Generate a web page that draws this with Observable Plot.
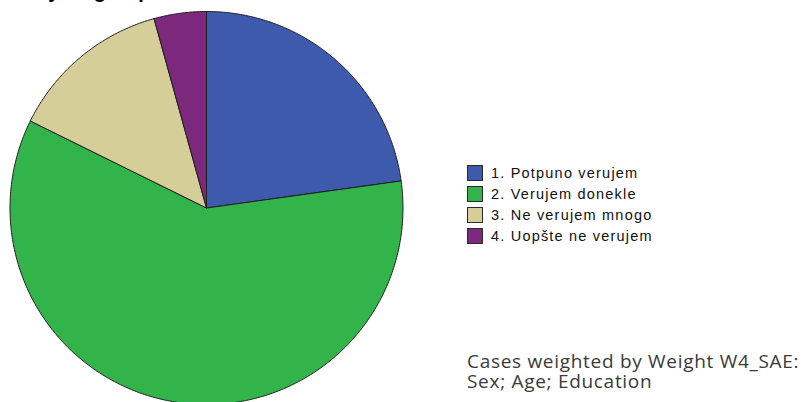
<!DOCTYPE html>
<html>
<head>
<meta charset="utf-8">
<script src="https://cdn.jsdelivr.net/npm/d3@7"></script>
<script src="https://cdn.jsdelivr.net/npm/@observablehq/plot@0.6"></script>
<style>
  html, body { margin: 0; padding: 0; background: #fff; }
  #wrap { position: relative; width: 811px; height: 402px; overflow: hidden; background: #fff; }
  #chart { position: absolute; left: 0; top: 0; }
  #title { position: absolute; left: 36px; top: -19.5px; font: bold 20px "Liberation Sans", Arial, sans-serif; color: #000; white-space: nowrap; line-height: 20px; }
  #legend { position: absolute; left: 467px; top: 162px; }
  #caption { position: absolute; left: 467px; top: 350.5px; font: 400 19px "Open Sans", sans-serif; letter-spacing: 0.7px; color: #3a3a3a; line-height: 20px; white-space: nowrap; }
  .lg-swatches { margin: 0 !important; min-height: 0 !important; }
  .lg-swatch { height: 21px; padding: 0 !important; display: flex; align-items: center; }
  .lg-swatch svg { box-sizing: border-box; border: 1px solid #2a2a2a; margin-right: 8px !important; }
</style>
</head>
<body>
<div id="wrap">
  <div id="chart"></div>
  <div id="title"></div>
  <div id="legend"></div>
  <div id="caption"></div>
</div>
<script>
const categories = ["1. Potpuno verujem", "2. Verujem donekle", "3. Ne verujem mnogo", "4. Uopšte ne verujem"];
const values = [22.8, 59.5, 13.4, 4.3];
const colors = ["#3D5AAD", "#32B44A", "#D5CE98", "#7B287D"];
const titleText = "by its group";
const captionLines = ["Cases weighted by Weight W4_SAE:", "Sex; Age; Education"];

// slice outlines in unit-circle data space, clockwise from 12 o'clock
const total = d3.sum(values);
const slices = [];
let cum = 0;
categories.forEach((cat, i) => {
  const a0 = (cum / total) * 2 * Math.PI;
  cum += values[i];
  const a1 = (cum / total) * 2 * Math.PI;
  const n = Math.max(2, Math.ceil((a1 - a0) / (Math.PI / 360)));
  slices.push({cat, x: 0, y: 0});
  for (let k = 0; k <= n; ++k) {
    const a = a0 + (a1 - a0) * k / n;
    slices.push({cat, x: Math.sin(a), y: Math.cos(a)});
  }
  slices.push({cat, x: 0, y: 0});
});

const cx = 206, cy = 207.5, r = 196.5;
const colorScale = {domain: categories, range: colors};

const chart = Plot.plot({
  width: 811,
  height: 402,
  margin: 0,
  style: {background: "transparent", overflow: "hidden"},
  x: {domain: [-1, 1], range: [cx - r, cx + r], axis: null},
  y: {domain: [-1, 1], range: [cy + r, cy - r], axis: null},
  color: colorScale,
  marks: [
    Plot.line(slices, {x: "x", y: "y", z: "cat", fill: "cat", stroke: "#1e1e1e", strokeWidth: 1, strokeLinejoin: "round"})
  ]
});
document.getElementById("chart").appendChild(chart);

document.getElementById("title").textContent = titleText;

const legend = Plot.legend({
  color: colorScale,
  legend: "swatches",
  columns: 1,
  swatchSize: 16,
  className: "lg",
  style: {fontFamily: "'Liberation Sans', Arial, sans-serif", fontSize: "14.5px", letterSpacing: "1.2px", color: "#111"}
});
document.getElementById("legend").appendChild(legend);

d3.select("#caption").selectAll("div").data(captionLines).join("div").text(d => d);
</script>
</body>
</html>
